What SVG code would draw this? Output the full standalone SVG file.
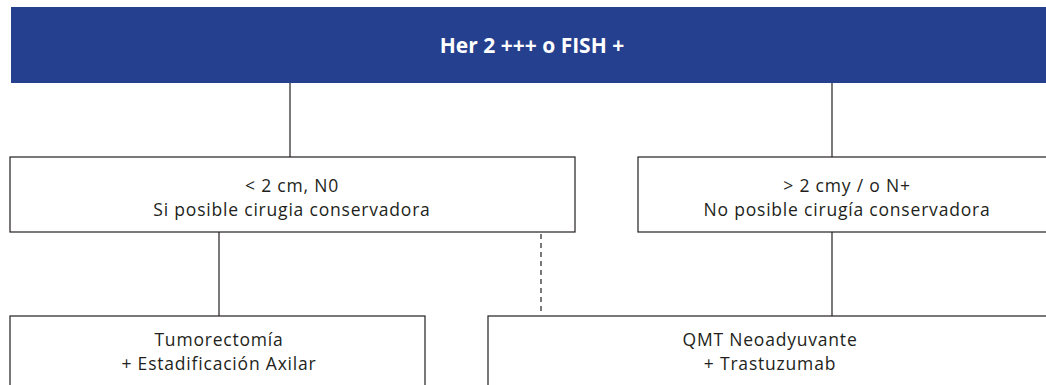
<svg xmlns="http://www.w3.org/2000/svg" width="1046" height="385" viewBox="0 0 1046 385">
<style>
.box{fill:#fff;stroke:#231f20;stroke-width:1.2}
.t{font-family:"Open Sans","Liberation Sans",Arial,sans-serif;font-size:17.5px;letter-spacing:0.8px;fill:#231f20;text-anchor:middle}
.h{font-family:"Open Sans","Liberation Sans",Arial,sans-serif;font-size:21px;font-weight:bold;fill:#fff;text-anchor:middle}
.c{stroke:#231f20;stroke-width:1.2;fill:none}
</style>
<rect width="1046" height="385" fill="#fff"/>
<g id="connectors">
<line class="c" x1="290" y1="83" x2="290" y2="157"/>
<line class="c" x1="832" y1="83" x2="832" y2="157"/>
<line class="c" x1="219" y1="232" x2="219" y2="316"/>
<line class="c" x1="832" y1="232" x2="832" y2="316"/>
<line class="c" x1="541" y1="234" x2="541" y2="312" stroke-dasharray="5,4"/>
</g>
<g id="header">
<rect x="11" y="7" width="1040" height="76" fill="#24408e"/>
<text class="h" x="532" y="52.5">Her 2 +++ o FISH +</text>
</g>
<g id="small">
<rect class="box" x="10" y="157" width="565" height="75"/>
<text class="t" x="292" y="191.5">&lt; 2 cm, N0</text>
<text class="t" x="292" y="216">Si posible cirugia conservadora</text>
</g>
<g id="large">
<rect class="box" x="638" y="157" width="420" height="75"/>
<text class="t" x="847" y="191.5">&gt; 2 cmy / o N+</text>
<text class="t" x="847" y="216">No posible cirugía conservadora</text>
</g>
<g id="tumorectomia">
<rect class="box" x="10" y="316" width="415" height="80"/>
<text class="t" x="219" y="346">Tumorectomía</text>
<text class="t" x="219" y="370">+ Estadificación Axilar</text>
</g>
<g id="qmt">
<rect class="box" x="488" y="316" width="570" height="80"/>
<text class="t" x="770" y="346">QMT Neoadyuvante</text>
<text class="t" x="770" y="370">+ Trastuzumab</text>
</g>
</svg>
